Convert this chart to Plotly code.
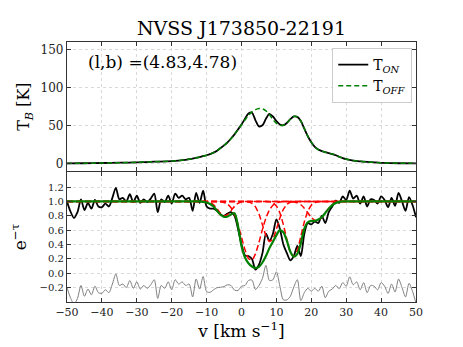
import plotly.graph_objects as go

# ---------------- data ----------------
VEL = list(range(-50, 51))

# Top panel: brightness temperature profiles
VEL_T = [-50, -45, -40, -35, -30, -25, -20, -18, -16,
         -15, -14, -13, -12, -11, -10, -9, -8, -7, -6, -5, -4, -3, -2, -1,
         0, 1, 2, 3, 4, 5, 6, 7, 8, 9, 10, 11, 12, 13, 14, 15, 16, 17, 18, 19, 20,
         21, 22, 23, 24, 25, 26, 27, 28, 29, 30, 32, 34, 36, 38, 40, 45, 50]
T_OFF = [0.3, 0.5, 0.8, 1.2, 1.7, 2.5, 3.3, 4.0, 5.0,
         5.7, 6.5, 7.5, 8.5, 9.6, 11.0, 12.5, 14.5, 17.0, 20.5, 24.0, 28.0, 33.0, 38.5, 44.5,
         51.0, 57.5, 63.5, 68.0, 71.0, 72.5, 72.0, 69.5, 64.5, 58.0, 53.0, 50.5, 50.5, 53.5, 58.5, 62.0, 61.5, 56.0, 46.0, 36.0, 28.0,
         22.0, 18.5, 16.5, 15.0, 13.8, 12.6, 11.0, 9.0, 7.2, 5.8, 4.0, 3.0, 2.2, 1.6, 1.1, 0.5, 0.3]
T_ON = [0.3, 0.5, 0.8, 1.2, 1.7, 2.5, 3.3, 4.0, 5.0,
        5.8, 6.6, 7.6, 8.6, 9.8, 11.0, 12.5, 14.5, 17.0, 20.5, 24.0, 28.0, 33.0, 38.5, 45.0,
        51.5, 59.0, 66.0, 67.0, 57.0, 49.0, 50.5, 59.0, 65.5, 62.0, 56.0, 51.5, 50.5, 53.5, 58.5, 62.0, 61.5, 56.0, 46.0, 36.0, 28.0,
        22.0, 18.5, 16.5, 15.0, 13.8, 12.6, 11.0, 9.0, 7.2, 5.8, 4.0, 3.0, 2.2, 1.6, 1.1, 0.5, 0.3]

# Bottom panel: absorption spectrum e^-tau (1 km/s steps, -50..50)
EMT = [1.00, 0.86, 0.77, 0.85, 1.03, 0.88, 0.98, 0.90, 1.02, 0.93,
       0.92, 0.97, 0.93, 1.05, 1.19, 1.03, 1.05, 1.00, 1.10, 0.99,
       1.08, 0.98, 1.03, 0.99, 1.04, 1.11, 0.85, 1.03, 0.99, 1.08,
       0.97, 1.11, 1.05, 1.08, 1.03, 1.05, 0.87, 1.12, 0.98, 1.15,
       0.93, 0.90, 0.90, 0.87, 0.82, 0.80, 0.83, 0.85, 0.80, 0.62,
       0.40, 0.25, 0.24, 0.20, 0.05, 0.12, 0.28, 0.55, 0.45, 0.55,
       0.75, 0.62, 0.40, 0.28, 0.18, 0.24, 0.38, 0.24, 0.55, 0.70,
       0.68, 0.72, 0.70, 0.80, 0.70, 0.85, 0.93, 1.01, 0.98, 1.07,
       1.02, 1.15, 1.04, 1.08, 0.97, 1.07, 0.93, 1.03, 1.02, 0.97,
       1.07, 1.02, 0.92, 1.05, 0.94, 1.12, 1.00, 0.87, 1.06, 0.95,
       0.78]

# Total fit (green)
FIT = ([1.0] * 39 +
       [0.995, 0.985, 0.965, 0.93, 0.87, 0.815, 0.785, 0.79, 0.82, 0.835,
        0.66, 0.38, 0.22, 0.14, 0.095, 0.075, 0.09, 0.15, 0.24, 0.35,
        0.44, 0.53, 0.60, 0.57, 0.45, 0.30, 0.23, 0.27, 0.42, 0.62,
        0.71, 0.73, 0.73, 0.75, 0.78, 0.84, 0.90, 0.95, 0.98, 0.995] +
       [1.0] * 22)

RESID_OFFSET = -0.2

# Individual Gaussian components (red dashed)
C1_V = [-50, -13, -12, -11, -10, -9, -8, -7, -6, -5, -4, -3, -2, -1, 0, 1, 2, 3, 50]
C1 = [1.0, 1.0, 1.0, 0.999, 0.995, 0.983, 0.952, 0.898, 0.836, 0.801, 0.817, 0.872, 0.932, 0.973, 0.992, 0.998, 1.0, 1.0, 1.0]
C2_V = [-50, -9, -8, -7, -6, -5, -4, -3, -2, -1, 0, 1, 2, 3, 4, 5, 6, 7, 8, 9, 10, 11, 12, 13, 14, 50]
C2 = [1.0, 1.0, 1.0, 0.999, 0.995, 0.986, 0.962, 0.912, 0.820, 0.679, 0.503, 0.327, 0.207, 0.185, 0.270, 0.430, 0.611, 0.769, 0.881, 0.946, 0.979, 0.993, 0.998, 1.0, 1.0, 1.0]
C3_V = [-50, -1, 0, 1, 2, 3, 4, 5, 6, 7, 8, 9, 10, 11, 12, 13, 14, 15, 16, 17, 50]
C3 = [1.0, 1.0, 1.0, 0.998, 0.993, 0.974, 0.924, 0.825, 0.677, 0.524, 0.443, 0.479, 0.612, 0.770, 0.891, 0.959, 0.988, 0.997, 1.0, 1.0, 1.0]
C4_V = [-50, 5, 6, 7, 8, 9, 10, 11, 12, 13, 14, 15, 16, 17, 18, 19, 20, 21, 22, 23, 24, 25, 50]
C4 = [1.0, 1.0, 1.0, 0.999, 0.994, 0.979, 0.936, 0.840, 0.677, 0.470, 0.292, 0.231, 0.321, 0.512, 0.715, 0.864, 0.948, 0.984, 0.996, 1.0, 1.0, 1.0, 1.0]
C5_V = [-50, 11, 12, 13, 14, 15, 16, 17, 18, 19, 20, 21, 22, 23, 24, 25, 26, 27, 28, 29, 30, 31, 32, 33, 50]
C5 = [1.0, 1.0, 1.0, 1.0, 0.998, 0.993, 0.981, 0.954, 0.907, 0.843, 0.778, 0.736, 0.736, 0.778, 0.843, 0.907, 0.954, 0.981, 0.993, 0.998, 1.0, 1.0, 1.0, 1.0, 1.0]
COMPONENTS = [(C1_V, C1), (C2_V, C2), (C3_V, C3), (C4_V, C4), (C5_V, C5)]

TITLE = "NVSS J173850-22191"
LB_TEXT = "(l,b) =(4.83,4.78)"

RESID = [e - f + RESID_OFFSET for e, f in zip(EMT, FIT)]

# ---------------- figure ----------------
FONT = "DejaVu Serif"
W, H = 455, 339   # page body has an 8px default margin
fig = go.Figure()

fig.add_trace(go.Scatter(x=VEL_T, y=T_ON, mode="lines", name="T<sub><i>ON</i></sub>",
                         line=dict(color="black", width=1.8, shape="spline", smoothing=0.8),
                         xaxis="x2", yaxis="y2"))
fig.add_trace(go.Scatter(x=VEL_T, y=T_OFF, mode="lines", name="T<sub><i>OFF</i></sub>",
                         line=dict(color="#008000", width=1.5, dash="5px,3px", shape="spline", smoothing=0.8),
                         xaxis="x2", yaxis="y2"))

fig.add_trace(go.Scatter(x=VEL, y=EMT, mode="lines", showlegend=False,
                         line=dict(color="black", width=1.8, shape="spline", smoothing=0.8),
                         xaxis="x", yaxis="y"))
for cv, cy in COMPONENTS:
    fig.add_trace(go.Scatter(x=cv, y=cy, mode="lines", showlegend=False,
                             line=dict(color="#ff0000", width=1.5, dash="6px,3px", shape="spline", smoothing=0.6),
                             xaxis="x", yaxis="y"))
fig.add_trace(go.Scatter(x=VEL, y=FIT, mode="lines", showlegend=False,
                         line=dict(color="#008000", width=2.2, shape="spline", smoothing=0.8),
                         xaxis="x", yaxis="y"))
fig.add_trace(go.Scatter(x=VEL, y=RESID, mode="lines", showlegend=False,
                         line=dict(color="#808080", width=1.0, shape="spline", smoothing=0.8),
                         xaxis="x", yaxis="y"))

axis_common = dict(showline=True, linecolor="#333333", linewidth=1.3, mirror="ticks",
                   ticks="inside", tickcolor="#333333", ticklen=4,
                   showgrid=True, gridcolor="#d9d9d9", griddash="dot", gridwidth=1,
                   zeroline=False, tickfont=dict(family=FONT, size=11, color="#222"))

fig.update_layout(
    width=W, height=H,
    margin=dict(l=50, r=47, t=34, b=39),
    paper_bgcolor="white", plot_bgcolor="white",
    font=dict(family=FONT, color="black"),
    title=dict(text=TITLE, x=0.5, xref="paper", xanchor="center",
               y=1 - 20 / H, yref="container", yanchor="middle",
               font=dict(family=FONT, size=19, color="black")),
    xaxis=dict(axis_common, range=[-50, 50], domain=[0, 1], anchor="y",
               tickvals=[-50, -40, -30, -20, -10, 0, 10, 20, 30, 40, 50],
               ticktext=["\u221250", "\u221240", "\u221230", "\u221220", "\u221210", "0", "10", "20", "30", "40", "50"],
               title=dict(text="v [km s<sup>\u22121</sup>]", font=dict(family=FONT, size=17), standoff=4)),
    yaxis=dict(axis_common, range=[-0.4, 1.41], domain=[0, 0.5], anchor="x",
               tickvals=[-0.2, 0.0, 0.2, 0.4, 0.6, 0.8, 1.0, 1.2],
               ticktext=["\u22120.2", "0.0", "0.2", "0.4", "0.6", "0.8", "1.0", "1.2"],
               tickfont=dict(family=FONT, size=10, color="#222"),
               title=dict(text="e<sup>\u2212\u03c4</sup>", font=dict(family=FONT, size=17), standoff=8)),
    xaxis2=dict(axis_common, range=[-50, 50], domain=[0, 1], anchor="y2",
                tickvals=[-50, -40, -30, -20, -10, 0, 10, 20, 30, 40, 50], showticklabels=False),
    yaxis2=dict(axis_common, range=[-10, 160], domain=[0.503, 1], anchor="x2",
                tickvals=[0, 50, 100, 150],
                tickfont=dict(family=FONT, size=12, color="#222"),
                title=dict(text="T<sub><i>B</i></sub> [K]", font=dict(family=FONT, size=16), standoff=6)),
    legend=dict(x=0.76, y=0.977, xanchor="left", yanchor="top",
                bgcolor="rgba(255,255,255,0.9)", bordercolor="#cccccc", borderwidth=1,
                font=dict(family=FONT, size=14, color="black"), itemwidth=30,
                tracegroupgap=2),
    annotations=[dict(text=LB_TEXT, x=-44.6, y=134, xref="x2", yref="y2",
                      xanchor="left", yanchor="middle", showarrow=False,
                      font=dict(family=FONT, size=17, color="black"))],
)

fig.write_html("out.html")
